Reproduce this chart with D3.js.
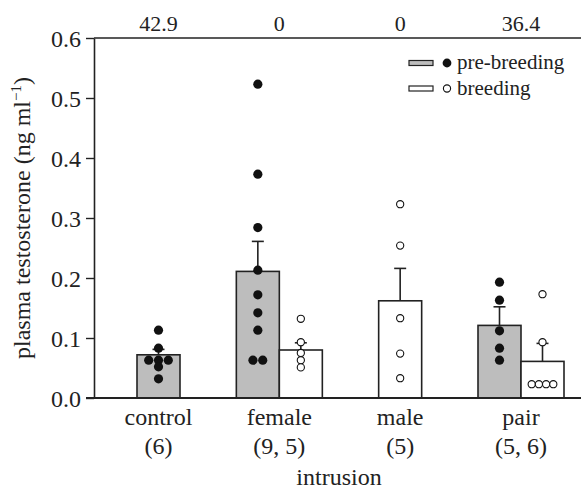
<!DOCTYPE html>
<html>
<head>
<meta charset="utf-8">
<script src="https://d3js.org/d3.v7.min.js"></script>
<style>
  body { margin: 0; background: #fff; }
  svg text { font-family: "Times New Roman", "Liberation Serif", "DejaVu Serif", serif; fill: #222; }
</style>
</head>
<body>
<div id="chart"></div>
<script>

// data
var categories = ["control", "female", "male", "pair"];
var sampleSizes = ["(6)", "(9, 5)", "(5)", "(5, 6)"];
var topLabels = ["42.9", "0", "0", "36.4"];
var yTicks = [0.0, 0.1, 0.2, 0.3, 0.4, 0.5, 0.6];

// pre-breeding (grey bars, filled dots)
var preMean = [0.072, 0.211, null, 0.121];
var preSE   = [0.009, 0.050, null, 0.031];
var preDots = [
  [0.113, 0.083, 0.063, 0.063, 0.063, 0.052, 0.032],
  [0.523, 0.373, 0.284, 0.213, 0.172, 0.142, 0.113, 0.063, 0.063],
  [],
  [0.193, 0.163, 0.112, 0.083, 0.063]
];

// breeding (white bars, open dots)
var breedMean = [null, 0.080, 0.162, 0.061];
var breedSE   = [null, 0.012, 0.054, 0.030];
var breedDots = [
  [],
  [0.132, 0.093, 0.075, 0.063, 0.051],
  [0.323, 0.254, 0.133, 0.074, 0.033],
  [0.173, 0.093, 0.023, 0.023, 0.023, 0.023]
];

var W = 581, H = 490;
var margin = {top: 38, left: 94, bottom: 92};
var plotH = H - margin.top - margin.bottom;
var serif = "'Times New Roman', 'Liberation Serif', serif";

var svg = d3.select("#chart").append("svg")
    .attr("width", W)
    .attr("height", H)
    .attr("font-family", serif);

var y = d3.scaleLinear().domain([0, 0.6]).range([margin.top + plotH, margin.top]);
var x = d3.scalePoint().domain(categories).range([158.5, 521]);
var barW = 43;

// build series rows
var series = [
  {key: "pre", fill: "#bdbdbd", mean: preMean, se: preSE, dots: preDots, dotFill: "#111", r: 4.6},
  {key: "breed", fill: "#ffffff", mean: breedMean, se: breedSE, dots: breedDots, dotFill: "#fff", r: 3.6}
];

function barCenter(i, key) {
  var c = x(categories[i]);
  var both = preMean[i] != null && breedMean[i] != null;
  if (!both) return c;
  return key === "pre" ? c - barW / 2 : c + barW / 2;
}

var bars = [], errs = [], dots = [];
series.forEach(function(s) {
  categories.forEach(function(cat, i) {
    if (s.mean[i] == null) return;
    var cx = barCenter(i, s.key);
    bars.push({cx: cx, v: s.mean[i], fill: s.fill});
    errs.push({cx: cx, v: s.mean[i], top: s.mean[i] + s.se[i]});
    // spread tied values sideways
    var counts = {};
    s.dots[i].forEach(function(v) { counts[v] = (counts[v] || 0) + 1; });
    var seen = {};
    s.dots[i].forEach(function(v) {
      var n = counts[v], k = seen[v] || 0;
      seen[v] = k + 1;
      var gap = 2 * s.r + (s.key === "pre" ? 0.6 : 0);
      dots.push({cx: cx + (k - (n - 1) / 2) * gap, v: v, fill: s.dotFill, r: s.r, key: s.key});
    });
  });
});

// bars
svg.append("g").selectAll("rect")
  .data(bars)
  .enter().append("rect")
    .attr("x", function(d) { return d.cx - barW / 2; })
    .attr("y", function(d) { return y(d.v); })
    .attr("width", barW)
    .attr("height", function(d) { return y(0) - y(d.v); })
    .attr("fill", function(d) { return d.fill; })
    .attr("stroke", "#222")
    .attr("stroke-width", 1.6);

// error bars (upper only)
var eg = svg.append("g").attr("stroke", "#222").attr("stroke-width", 1.6);
eg.selectAll("line.stem")
  .data(errs)
  .enter().append("line")
    .attr("class", "stem")
    .attr("x1", function(d) { return d.cx; })
    .attr("x2", function(d) { return d.cx; })
    .attr("y1", function(d) { return y(d.v); })
    .attr("y2", function(d) { return y(d.top); });
eg.selectAll("line.cap")
  .data(errs)
  .enter().append("line")
    .attr("class", "cap")
    .attr("x1", function(d) { return d.cx - 6; })
    .attr("x2", function(d) { return d.cx + 6; })
    .attr("y1", function(d) { return y(d.top); })
    .attr("y2", function(d) { return y(d.top); });

// individual points
svg.append("g").selectAll("circle")
  .data(dots)
  .enter().append("circle")
    .attr("cx", function(d) { return d.cx; })
    .attr("cy", function(d) { return y(d.v); })
    .attr("r", function(d) { return d.r; })
    .attr("fill", function(d) { return d.fill; })
    .attr("stroke", "#111")
    .attr("stroke-width", function(d) { return d.key === "pre" ? 0 : 1.1; });

// y axis
var yAxis = svg.append("g")
  .attr("transform", "translate(" + margin.left + ",0)")
  .call(d3.axisLeft(y).tickValues(yTicks).tickFormat(d3.format(".1f")).tickSize(8).tickSizeOuter(0));
yAxis.attr("font-family", serif);
yAxis.select(".domain").attr("stroke", "#222").attr("stroke-width", 1.6);
yAxis.selectAll(".tick line").attr("stroke", "#222").attr("stroke-width", 1.4);
yAxis.selectAll(".tick text")
  .attr("x", -13)
  .attr("dy", "0.35em")
  .style("font-size", "24px");

// frame lines (top and bottom)
svg.append("line")
  .attr("x1", margin.left).attr("x2", W)
  .attr("y1", y(0.6)).attr("y2", y(0.6))
  .attr("stroke", "#222").attr("stroke-width", 1.6);
svg.append("line")
  .attr("x1", margin.left - 8).attr("x2", W)
  .attr("y1", y(0)).attr("y2", y(0))
  .attr("stroke", "#222").attr("stroke-width", 1.8);

// top labels
svg.append("g").selectAll("text")
  .data(topLabels)
  .enter().append("text")
    .attr("x", function(d, i) { return x(categories[i]); })
    .attr("y", 31)
    .attr("text-anchor", "middle")
    .style("font-size", "22px")
    .text(function(d) { return d; });

// category labels
svg.append("g").selectAll("text")
  .data(categories)
  .enter().append("text")
    .attr("x", function(d) { return x(d); })
    .attr("y", 425)
    .attr("text-anchor", "middle")
    .style("font-size", "24px")
    .text(function(d) { return d; });
svg.append("g").selectAll("text")
  .data(sampleSizes)
  .enter().append("text")
    .attr("x", function(d, i) { return x(categories[i]); })
    .attr("y", 454)
    .attr("text-anchor", "middle")
    .style("font-size", "24px")
    .text(function(d) { return d; });

svg.append("text")
  .attr("x", 339)
  .attr("y", 485)
  .attr("text-anchor", "middle")
  .style("font-size", "24px")
  .text("intrusion");

// y axis title
var yt = svg.append("text")
  .attr("transform", "translate(30," + y(0.3) + ") rotate(-90)")
  .attr("text-anchor", "middle")
  .style("font-size", "24px");
yt.append("tspan").text("plasma testosterone (ng ml");
yt.append("tspan").attr("dy", -9).style("font-size", "15px").text("\u22121");
yt.append("tspan").attr("dy", 9).text(")");

// legend
var legend = [
  {label: "pre-breeding", fill: "#bdbdbd", dot: "#111", stroke: 0, r: 4.4},
  {label: "breeding", fill: "#fff", dot: "#fff", stroke: 1.1, r: 3.6}
];
var lg = svg.append("g").attr("transform", "translate(409,63)");
var li = lg.selectAll("g").data(legend).enter().append("g")
  .attr("transform", function(d, i) { return "translate(0," + (i * 25.5) + ")"; });
li.append("rect")
  .attr("x", 0).attr("y", -2.5).attr("width", 24).attr("height", 5)
  .attr("fill", function(d) { return d.fill; })
  .attr("stroke", "#222").attr("stroke-width", 1.2);
li.append("circle")
  .attr("cx", 38).attr("cy", 0)
  .attr("r", function(d) { return d.r; })
  .attr("fill", function(d) { return d.dot; })
  .attr("stroke", "#111")
  .attr("stroke-width", function(d) { return d.stroke; });
li.append("text")
  .attr("x", 48).attr("y", 6)
  .style("font-size", "21px")
  .text(function(d) { return d.label; });

</script>
</body>
</html>
